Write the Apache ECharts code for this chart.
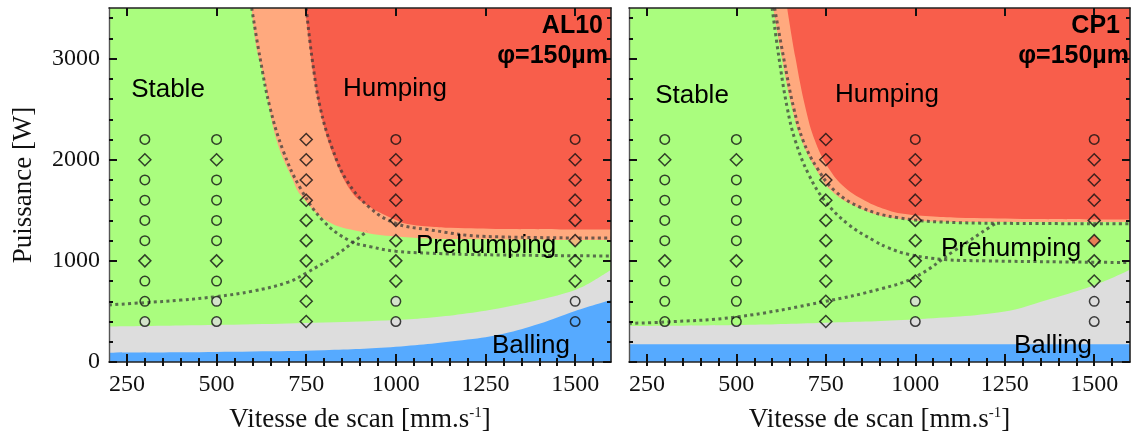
<!DOCTYPE html>
<html><head><meta charset="utf-8">
<script src="https://cdn.jsdelivr.net/npm/echarts@6/dist/echarts.min.js"></script>
<style>html,body{margin:0;padding:0;background:#fff}#c{width:1131px;height:439px}</style>
</head><body><div id="c"></div>
<script>
// ---------- axes ----------
const X_MIN = 200, X_MAX = 1600, Y_MIN = 0, Y_MAX = 3500;
const xMajorTicks = [250, 500, 750, 1000, 1250, 1500];
const xMinorTicks = [250, 300, 350, 400, 450, 500, 550, 600, 650, 700, 750, 800, 850, 900, 950, 1000, 1050, 1100, 1150, 1200, 1250, 1300, 1350, 1400, 1450, 1500, 1550];
const yMajorTicks = [0, 1000, 2000, 3000];
const yMinorTicks = [200, 400, 600, 800, 1000, 1200, 1400, 1600, 1800, 2000, 2200, 2400, 2600, 2800, 3000, 3200, 3400];

// ---------- experiment points ----------
const speeds = [300, 500, 750, 1000, 1500];
const powers = [400, 600, 800, 1000, 1200, 1400, 1600, 1800, 2000, 2200];
// c = circle, g = grey circle, d = diamond, s = salmon diamond, r = red diamond (one string per speed, powers bottom->top)
const al10Codes = ['gccdccccdc', 'ggcdccccdc', 'dddddddddd', 'ggdddddddc', 'ccddsddddc'];
const cp1Codes  = ['cccdccccdc', 'cccdccccdc', 'dddddddddd', 'ggdddddddc', 'ccddrddddc'];

// ---------- AL10 regions (speed, power) ----------
const al10Balling  = [[200, 92], [400, 96], [600, 104], [800, 116], [1000, 150], [1200, 222], [1300, 280], [1400, 378], [1500, 505], [1600, 614]];
const al10Grey     = [[200, 350], [400, 360], [600, 372], [800, 390], [1000, 416], [1100, 440], [1200, 482], [1300, 540], [1400, 615], [1500, 713], [1550, 800], [1600, 911]];
const al10Prehump  = [[598, 3500], [612, 3100], [630, 2845], [668, 2185], [714, 1789], [733, 1657], [808, 1393], [900, 1290], [1000, 1240], [1150, 1215], [1600, 1205]];
const al10Humping  = [[747, 3500], [770, 2845], [798, 2350], [836, 1954], [882, 1657], [929, 1530], [948, 1490], [1000, 1405], [1032, 1365], [1100, 1338], [1153, 1327], [1300, 1315], [1600, 1310]];
const al10LineA    = [[598, 3500], [621, 3010], [649, 2515], [686, 2086], [733, 1723], [798, 1393], [873, 1195], [929, 1140], [1000, 1095], [1100, 1075], [1250, 1060], [1600, 1048]];
const al10LineB    = [[750, 3500], [766, 3010], [789, 2515], [822, 2119], [864, 1789], [929, 1520], [1000, 1370], [1088, 1310], [1250, 1241], [1600, 1225]];
const al10LineC    = [[200, 564], [300, 587], [400, 612], [500, 647], [600, 700], [700, 790], [750, 880], [826, 1040], [873, 1162], [920, 1294]];

// ---------- CP1 regions ----------
const cp1Balling  = [[200, 175], [1600, 175]];
const cp1Grey     = [[200, 356], [500, 366], [750, 389], [1000, 423], [1250, 500], [1368, 614], [1450, 700], [1500, 760], [1550, 830], [1600, 911]];
const cp1Prehump  = [[603, 3500], [627, 3010], [655, 2515], [683, 2185], [720, 1921], [766, 1690], [841, 1525], [933, 1426], [1118, 1385], [1300, 1385], [1600, 1383]];
const cp1Humping  = [[642, 3500], [665, 3010], [693, 2515], [720, 2185], [757, 1921], [804, 1723], [868, 1580], [924, 1500], [961, 1468], [1040, 1440], [1118, 1426], [1300, 1415], [1600, 1410]];
const cp1LineA    = [[600, 3500], [619, 3010], [642, 2515], [665, 2185], [702, 1855], [748, 1591], [813, 1360], [887, 1195], [924, 1130], [980, 1065], [1082, 1013], [1200, 1000], [1400, 990], [1600, 983]];
const cp1LineB    = [[607, 3500], [632, 3010], [660, 2515], [687, 2185], [725, 1921], [776, 1690], [850, 1525], [952, 1426], [1118, 1378], [1300, 1370], [1600, 1366]];
const cp1LineC    = [[200, 383], [300, 395], [500, 445], [750, 600], [900, 720], [1000, 840], [1109, 1100], [1211, 1340], [1225, 1370]];

// ---------- colours / styles ----------
const C_GREEN = '#AAFD7E', C_GREY = '#DDDDDD', C_BLUE = '#56AAFF', C_SALMON = '#FFA97E', C_RED = '#F85E4B';
const SERIF = '"Liberation Serif", "Times New Roman", serif';
const SANS = '"Liberation Sans", Arial, sans-serif';
const plain = function (v) { return String(v); };

function xAxesFor(g, withLabels) {
  const base = {type: 'value', gridIndex: g, min: X_MIN, max: X_MAX, splitLine: {show: false}, z: 10};
  const line = {show: true, onZero: false, lineStyle: {color: '#222', width: 1.6}};
  return [
    Object.assign({}, base, {position: 'bottom', axisLine: line,
      axisTick: {show: true, inside: true, length: 8, customValues: xMajorTicks, lineStyle: {color: '#111', width: 2}},
      axisLabel: {show: withLabels, customValues: xMajorTicks, formatter: plain, margin: 11, fontFamily: SERIF, fontSize: 24, color: '#111'},
      name: 'Vitesse de scan [mm.s{sup|-1}]', nameLocation: 'middle', nameGap: 44,
      nameTextStyle: {fontFamily: SERIF, fontSize: 27, color: '#111',
        rich: {sup: {fontFamily: SERIF, fontSize: 15, verticalAlign: 'top', color: '#111', padding: [0, 0, 12, 0]}}}}),
    Object.assign({}, base, {position: 'bottom', axisLine: {show: false},
      axisTick: {show: true, inside: true, length: 4, customValues: xMinorTicks, lineStyle: {color: '#111', width: 2}},
      axisLabel: {show: false}}),
    Object.assign({}, base, {position: 'top', axisLine: line,
      axisTick: {show: true, inside: true, length: 8, customValues: xMajorTicks, lineStyle: {color: '#111', width: 2}},
      axisLabel: {show: false}}),
    Object.assign({}, base, {position: 'top', axisLine: {show: false},
      axisTick: {show: true, inside: true, length: 4, customValues: xMinorTicks, lineStyle: {color: '#111', width: 2}},
      axisLabel: {show: false}})
  ];
}
function yAxesFor(g, withLabels) {
  const base = {type: 'value', gridIndex: g, min: Y_MIN, max: Y_MAX, splitLine: {show: false}, z: 10};
  const line = {show: true, onZero: false, lineStyle: {color: '#222', width: 1.6}};
  const main = Object.assign({}, base, {position: 'left', axisLine: {show: true, onZero: false, lineStyle: {color: '#555', width: 1.4}},
      axisTick: {show: true, inside: true, length: 8, customValues: yMajorTicks, lineStyle: {color: '#111', width: 2}},
      axisLabel: {show: withLabels, customValues: yMajorTicks, formatter: plain, margin: 9, fontFamily: SERIF, fontSize: 24, color: '#111'}});
  if (withLabels) {
    Object.assign(main, {name: 'Puissance [W]', nameLocation: 'middle', nameGap: 72,
      nameTextStyle: {fontFamily: SERIF, fontSize: 27, color: '#111'}});
  }
  return [
    main,
    Object.assign({}, base, {position: 'left', axisLine: {show: false},
      axisTick: {show: true, inside: true, length: 4, customValues: yMinorTicks, lineStyle: {color: '#111', width: 2}},
      axisLabel: {show: false}}),
    Object.assign({}, base, {position: 'right', axisLine: line,
      axisTick: {show: true, inside: true, length: 8, customValues: yMajorTicks, lineStyle: {color: '#111', width: 2}},
      axisLabel: {show: false}}),
    Object.assign({}, base, {position: 'right', axisLine: {show: false},
      axisTick: {show: true, inside: true, length: 4, customValues: yMinorTicks, lineStyle: {color: '#111', width: 2}},
      axisLabel: {show: false}})
  ];
}

function areaSeries(ai, data, color, origin, z) {
  return {type: 'line', xAxisIndex: ai, yAxisIndex: ai, data: data, smooth: 0.4,
    symbol: 'none', silent: true, z: z, lineStyle: {width: 0}, areaStyle: {color: color, opacity: 1, origin: origin}};
}
function dotSeries(ai, data) {
  return {type: 'line', xAxisIndex: ai, yAxisIndex: ai, data: data, smooth: 0.4,
    symbol: 'none', silent: true, z: 4,
    lineStyle: {color: 'rgba(55,55,55,0.72)', width: 3, type: [3, 3.4], cap: 'butt'}};
}
function markerSeries(ai, codes) {
  const data = [];
  speeds.forEach(function (v, i) {
    powers.forEach(function (p, j) {
      const c = codes[i][j];
      const isDiamond = (c === 'd' || c === 's' || c === 'r');
      let fill = 'rgba(0,0,0,0)';
      if (c === 'g') fill = C_GREY;
      if (c === 's') fill = C_SALMON;
      if (c === 'r') fill = C_RED;
      data.push({value: [v, p], symbol: isDiamond ? 'diamond' : 'circle', symbolSize: isDiamond ? 12 : 9.5,
        itemStyle: {color: fill, borderColor: '#111', borderWidth: 1.5}});
    });
  });
  return {type: 'scatter', xAxisIndex: ai, yAxisIndex: ai, data: data, silent: true, z: 6};
}
function panelSeries(g, balling, grey, prehump, humping, la, lb, lc, codes) {
  const ai = g * 4;
  return [
    areaSeries(ai, grey, C_GREY, 'start', 1),
    areaSeries(ai, balling, C_BLUE, 'start', 2),
    areaSeries(ai, prehump, C_SALMON, 'end', 2),
    areaSeries(ai, humping, C_RED, 'end', 3),
    dotSeries(ai, la), dotSeries(ai, lb), dotSeries(ai, lc),
    markerSeries(ai, codes)
  ];
}

function txt(x, y, text, size, align, bold) {
  return {type: 'text', x: x, y: y, z: 100, silent: true,
    style: {text: text, fontFamily: SANS, fontSize: size, fontWeight: bold ? 'bold' : 'normal',
      fill: '#000', align: align, verticalAlign: 'middle'}};
}

const chart = echarts.init(document.getElementById('c'), null, {renderer: 'canvas'});
chart.setOption({
  animation: false,
  backgroundColor: '#ffffff',
  grid: [
    {left: 109, top: 8, width: 502, height: 354, show: true, backgroundColor: C_GREEN, borderWidth: 0},
    {left: 629, top: 8, width: 501, height: 354, show: true, backgroundColor: C_GREEN, borderWidth: 0}
  ],
  xAxis: xAxesFor(0, true).concat(xAxesFor(1, true)),
  yAxis: yAxesFor(0, true).concat(yAxesFor(1, false)),
  series: panelSeries(0, al10Balling, al10Grey, al10Prehump, al10Humping, al10LineA, al10LineB, al10LineC, al10Codes)
    .concat(panelSeries(1, cp1Balling, cp1Grey, cp1Prehump, cp1Humping, cp1LineA, cp1LineB, cp1LineC, cp1Codes)),
  graphic: [
    txt(168, 90, 'Stable', 26, 'center'),
    txt(395, 89, 'Humping', 26, 'center'),
    txt(486, 246, 'Prehumping', 26, 'center'),
    txt(531, 346, 'Balling', 26, 'center'),
    txt(603, 26, 'AL10', 25, 'right', true),
    txt(608, 56, 'φ=150µm', 25, 'right', true),
    txt(692, 96, 'Stable', 26, 'center'),
    txt(887, 95, 'Humping', 26, 'center'),
    txt(1011, 249, 'Prehumping', 26, 'center'),
    txt(1053, 346, 'Balling', 26, 'center'),
    txt(1120, 26, 'CP1', 25, 'right', true),
    txt(1129, 56, 'φ=150µm', 25, 'right', true)
  ]
});
</script></body></html>
